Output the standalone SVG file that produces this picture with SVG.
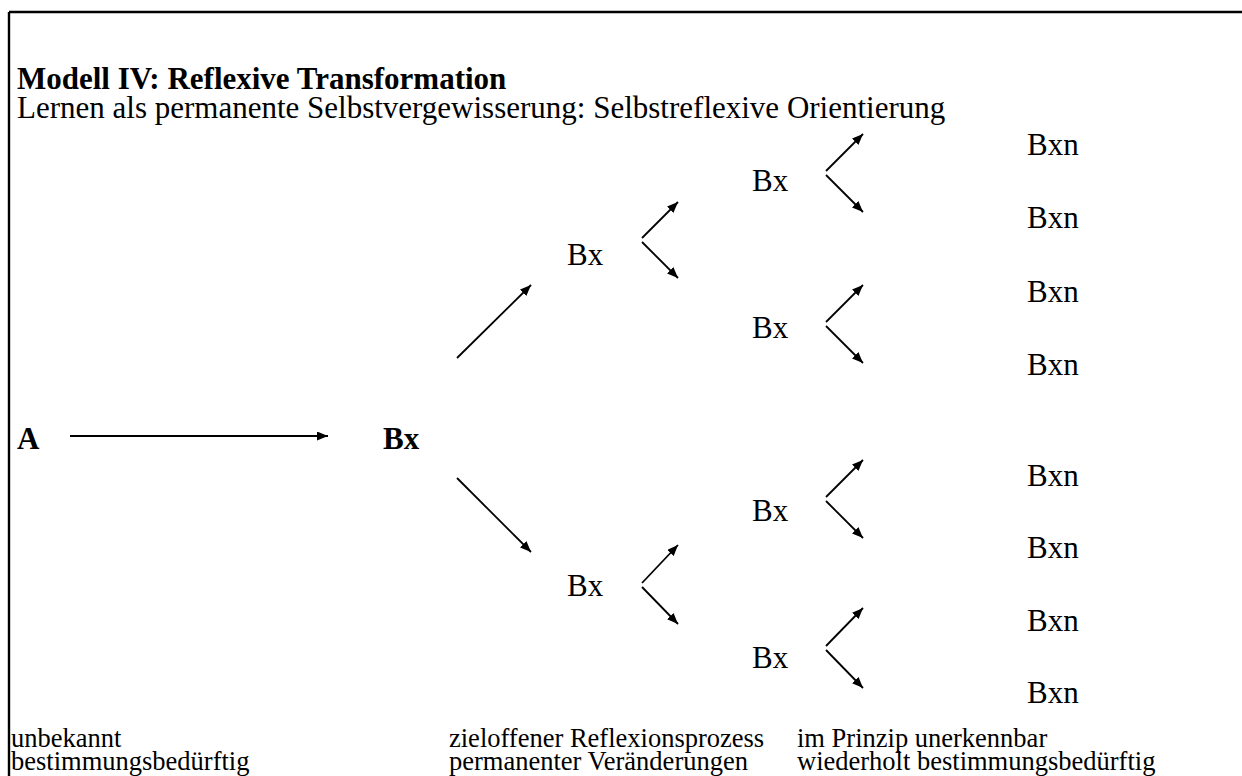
<svg xmlns="http://www.w3.org/2000/svg" width="1242" height="776" viewBox="0 0 1242 776">
<defs>
<marker id="ah" markerUnits="userSpaceOnUse" markerWidth="12" markerHeight="10" refX="11" refY="4.5" orient="auto">
<path d="M0,0 L11,4.5 L0,9 z" fill="#000"/>
</marker>
<style>
.t{font-family:"Liberation Serif","Times New Roman",serif;fill:#000}
.n{font-size:31px}
.b{font-weight:bold}
.s{font-size:26.5px}
.c line{stroke:#000;stroke-width:1.8;marker-end:url(#ah)}
</style>
</defs>
<rect width="1242" height="776" fill="#fff"/>
<g id="frame" stroke="#000" stroke-width="2.4" fill="none">
<line x1="9" y1="12" x2="1242" y2="12"/>
<line x1="9" y1="12" x2="9" y2="776"/>
</g>
<g id="title">
<text class="t n b" x="17" y="89">Modell IV: Reflexive Transformation</text>
<text class="t n" x="17" y="118">Lernen als permanente Selbstvergewisserung: Selbstreflexive Orientierung</text>
</g>
<g id="nodeA"><text class="t n b" x="17" y="449">A</text></g>
<g id="nodeB"><text class="t n b" x="383" y="449">Bx</text></g>
<g id="bx1a"><text class="t n" x="567" y="265">Bx</text></g>
<g id="bx1b"><text class="t n" x="567" y="596">Bx</text></g>
<g id="bx2a"><text class="t n" x="752" y="191">Bx</text></g>
<g id="bx2b"><text class="t n" x="752" y="338">Bx</text></g>
<g id="bx2c"><text class="t n" x="752" y="521">Bx</text></g>
<g id="bx2d"><text class="t n" x="752" y="668">Bx</text></g>
<g id="bxn1"><text class="t n" x="1027" y="155">Bxn</text></g>
<g id="bxn2"><text class="t n" x="1027" y="228">Bxn</text></g>
<g id="bxn3"><text class="t n" x="1027" y="302">Bxn</text></g>
<g id="bxn4"><text class="t n" x="1027" y="375">Bxn</text></g>
<g id="bxn5"><text class="t n" x="1027" y="486">Bxn</text></g>
<g id="bxn6"><text class="t n" x="1027" y="558">Bxn</text></g>
<g id="bxn7"><text class="t n" x="1027" y="631">Bxn</text></g>
<g id="bxn8"><text class="t n" x="1027" y="703">Bxn</text></g>
<g id="labels">
<text class="t s" x="11" y="747">unbekannt</text>
<text class="t s" x="11" y="770">bestimmungsbedürftig</text>
<text class="t s" x="449" y="747">zieloffener Reflexionsprozess</text>
<text class="t s" x="449" y="770">permanenter Veränderungen</text>
<text class="t s" x="797" y="747">im Prinzip unerkennbar</text>
<text class="t s" x="797" y="770">wiederholt bestimmungsbedürftig</text>
</g>
<g id="connectors" class="c">
<line x1="70" y1="436" x2="328" y2="436"/>
<line x1="457" y1="358" x2="531" y2="285"/>
<line x1="457" y1="478" x2="531" y2="552"/>
<line x1="642" y1="238" x2="678" y2="202"/>
<line x1="642" y1="242" x2="678" y2="278"/>
<line x1="642" y1="583" x2="678" y2="545"/>
<line x1="642" y1="587" x2="678" y2="624"/>
<line x1="826" y1="171" x2="863" y2="134"/>
<line x1="826" y1="175" x2="863" y2="212"/>
<line x1="826" y1="322" x2="863" y2="285"/>
<line x1="826" y1="326" x2="863" y2="363"/>
<line x1="826" y1="497" x2="863" y2="460"/>
<line x1="826" y1="501" x2="863" y2="538"/>
<line x1="826" y1="646" x2="863" y2="608"/>
<line x1="826" y1="650" x2="863" y2="688"/>
</g>
</svg>
